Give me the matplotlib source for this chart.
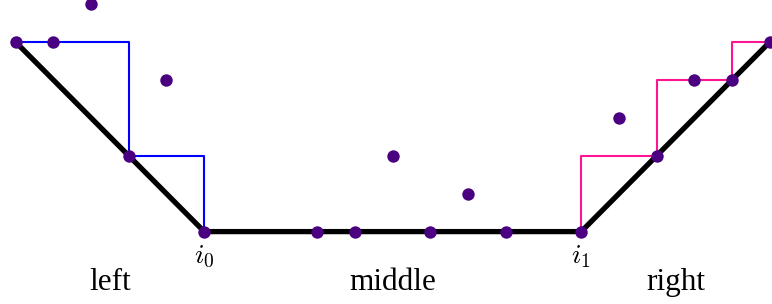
import matplotlib
matplotlib.use("Agg")
import matplotlib.pyplot as plt

# data
pts_x = [0, 1, 2, 3, 4, 5, 8, 9, 10, 11, 12, 13, 15, 16, 17, 18, 19, 20]
pts_y = [5, 5, 6, 2, 4, 0, 0, 0, 2, 0, 1, 0, 0, 3, 2, 4, 4, 5]

hull_x = [0, 5, 15, 20]
hull_y = [5, 0, 0, 5]

left_x = [0, 3, 3, 5, 5]
left_y = [5, 5, 2, 2, 0]

right_x = [15, 15, 17, 17, 19, 19, 20]
right_y = [0, 2, 2, 4, 4, 5, 5]

idx_labels = [r"$i_0$", r"$i_1$"]
idx_x = [5, 15]

region_labels = ["left", "middle", "right"]
region_x = [2.5, 10, 17.5]

plt.rcParams['mathtext.fontset'] = 'cm'

fig = plt.figure(figsize=(7.72, 3.04), dpi=100)
ax = fig.add_axes([0, 0, 1, 1])
ax.set_xlim(-0.416, 20.06)
ax.set_ylim(-1.91, 6.11)
ax.axis('off')

ax.plot(hull_x, hull_y, color='black', lw=3.8, solid_capstyle='butt', zorder=2)
ax.plot(left_x, left_y, color='#0000FF', lw=1.5, zorder=3)
ax.plot(right_x, right_y, color='#FF1493', lw=1.5, zorder=3)
ax.scatter(pts_x, pts_y, s=80, color='#4B0082', zorder=4, linewidths=0)

for lab, x in zip(idx_labels, idx_x):
    ax.text(x, -0.27, lab, ha='center', va='top', fontsize=20)

for lab, x in zip(region_labels, region_x):
    ax.text(x, -1.54, lab, ha='center', va='baseline', fontsize=22.5,
            family='Liberation Serif')

fig.savefig("out.png", dpi=100)
